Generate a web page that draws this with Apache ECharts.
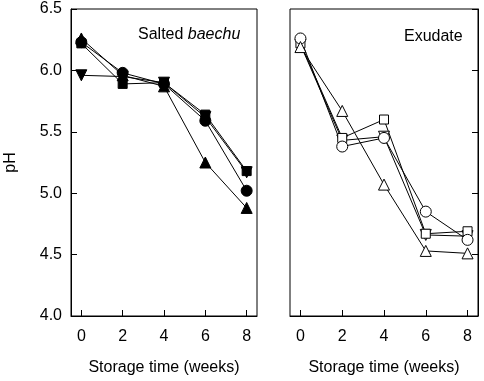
<!DOCTYPE html>
<html>
<head>
<meta charset="utf-8">
<script src="https://cdn.jsdelivr.net/npm/echarts@6/dist/echarts.min.js"></script>
<style>
  html, body { margin: 0; padding: 0; background: #fff; }
  #chart { width: 484px; height: 381px; }
</style>
</head>
<body>
<div id="chart"></div>
<script>
// storage weeks
var weeks = [0, 2, 4, 6, 8];
var xTicks = [0, 2, 4, 6, 8];

// Salted baechu (filled markers)
var baechuTriangle = [6.26, 5.96, 5.87, 5.25, 4.88];
var baechuCircle = [6.23, 5.98, 5.89, 5.59, 5.02];
var baechuSquare = [6.22, 5.89, 5.90, 5.64, 5.18];
var baechuDown = [5.96, 5.95, 5.90, 5.62, 5.17];

// Exudate (open markers)
var exuCircle = [6.26, 5.38, 5.45, 4.85, 4.62];
var exuSquare = [6.22, 5.45, 5.60, 4.67, 4.69];
var exuTriangle = [6.19, 5.67, 5.07, 4.53, 4.51];
var exuDown = [6.21, 5.43, 5.46, 4.66, 4.65];

var font = 'Liberation Sans, Arial, sans-serif';
var fs = 16;

function pairs(vals) {
  return weeks.map(function (w, i) { return [w, vals[i]]; });
}

function line(name, vals, idx, symbol, rotate, filled) {
  return {
    name: name,
    type: 'line',
    xAxisIndex: idx,
    yAxisIndex: idx,
    data: pairs(vals),
    symbol: symbol,
    symbolRotate: rotate,
    symbolSize: symbol === 'rect' ? 9 : 11,
    showAllSymbol: true,
    lineStyle: { color: '#000', width: 1 },
    itemStyle: {
      color: filled ? '#000' : '#fff',
      borderColor: '#000',
      borderWidth: 1
    },
    emphasis: { disabled: true },
    animation: false
  };
}

function xAxis(idx) {
  return {
    type: 'value',
    gridIndex: idx,
    min: -0.5,
    max: 8.5,
    name: 'Storage time (weeks)',
    nameLocation: 'middle',
    nameGap: 44,
    nameTextStyle: { color: '#000', fontSize: fs, fontFamily: font },
    axisLine: { onZero: false, lineStyle: { color: '#000' } },
    axisTick: { inside: true, length: 6, customValues: xTicks, lineStyle: { color: '#000' } },
    axisLabel: { customValues: xTicks, color: '#000', fontSize: fs, fontFamily: font, margin: 13 },
    splitLine: { show: false }
  };
}

var chart = echarts.init(document.getElementById('chart'));
chart.setOption({
  backgroundColor: '#fff',
  animation: false,
  grid: [
    { left: 71, top: 9, width: 186, height: 308, show: true, borderColor: '#000', borderWidth: 1 },
    { left: 290, top: 9, width: 188, height: 308, show: true, borderColor: '#000', borderWidth: 1 }
  ],
  xAxis: [xAxis(0), xAxis(1)],
  yAxis: [
    {
      type: 'value',
      gridIndex: 0,
      min: 4,
      max: 6.5,
      interval: 0.5,
      name: 'pH',
      nameLocation: 'middle',
      nameGap: 52,
      nameTextStyle: { color: '#000', fontSize: fs, fontFamily: font },
      axisLine: { show: true, onZero: false, lineStyle: { color: '#000' } },
      axisTick: { show: true, inside: true, length: 6, lineStyle: { color: '#000' } },
      axisLabel: {
        color: '#000', fontSize: fs, fontFamily: font, margin: 9,
        formatter: function (v) { return v.toFixed(1); }
      },
      splitLine: { show: false }
    },
    {
      type: 'value',
      gridIndex: 1,
      position: 'right',
      min: 4,
      max: 6.5,
      interval: 0.5,
      axisLine: { show: true, onZero: false, lineStyle: { color: '#000' } },
      axisTick: { show: true, inside: true, length: 6, lineStyle: { color: '#000' } },
      axisLabel: { show: false },
      splitLine: { show: false }
    }
  ],
  graphic: [
    {
      type: 'text',
      left: 138,
      top: 27,
      style: {
        text: '{n|Salted }{i|baechu}',
        rich: {
          n: { fontSize: fs, fontFamily: font, fill: '#000' },
          i: { fontSize: fs, fontFamily: font, fontStyle: 'italic', fill: '#000' }
        }
      }
    },
    {
      type: 'text',
      left: 404,
      top: 29,
      style: { text: 'Exudate', fontSize: fs, fontFamily: font, fill: '#000' }
    }
  ],
  series: [
    line('down', baechuDown, 0, 'triangle', 180, true),
    line('square', baechuSquare, 0, 'rect', 0, true),
    line('circle', baechuCircle, 0, 'circle', 0, true),
    line('triangle', baechuTriangle, 0, 'triangle', 0, true),
    line('down', exuDown, 1, 'triangle', 180, false),
    line('square', exuSquare, 1, 'rect', 0, false),
    line('circle', exuCircle, 1, 'circle', 0, false),
    line('triangle', exuTriangle, 1, 'triangle', 0, false)
  ]
});
</script>
</body>
</html>
